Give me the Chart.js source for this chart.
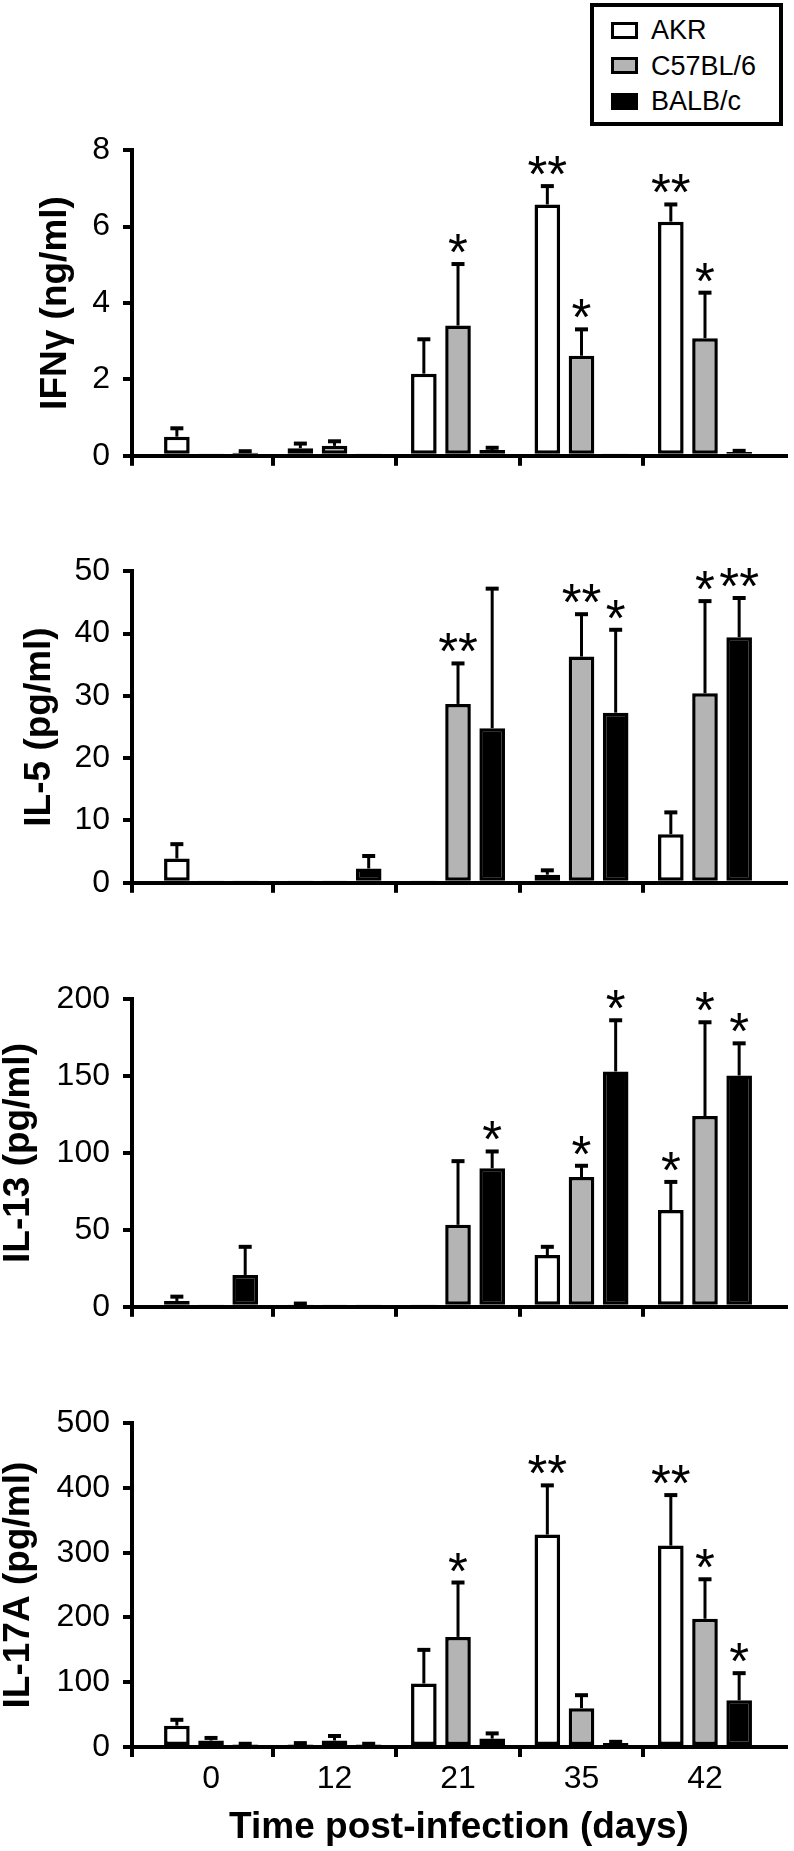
<!DOCTYPE html>
<html><head><meta charset="utf-8">
<script src="https://cdn.jsdelivr.net/npm/chart.js@4.4.1/dist/chart.umd.min.js"></script>
<style>
html,body{margin:0;padding:0;overflow:hidden;background:#fff;width:794px;height:1851px;}
.panel{position:absolute;left:0;width:794px;}
#legend{position:absolute;left:590px;top:3px;width:193px;height:123px;box-sizing:border-box;border:4px solid #000;background:#fff;z-index:5;font-family:"Liberation Sans",Arial,Helvetica,sans-serif;font-size:27px;color:#000;}
.key{position:absolute;left:17px;width:27px;height:17px;box-sizing:border-box;border:3.5px solid #000;}
.lab{position:absolute;left:57px;line-height:1;white-space:nowrap;}
</style></head>
<body>
<div id="legend"></div>
<div class="panel" style="top:118px;height:370px"><canvas id="c1"></canvas></div>
<div class="panel" style="top:539px;height:376px"><canvas id="c2"></canvas></div>
<div class="panel" style="top:967px;height:372px"><canvas id="c3"></canvas></div>
<div class="panel" style="top:1391px;height:457px"><canvas id="c4"></canvas></div>
<script>
// ---- data ----
const xLabels = ["0", "12", "21", "35", "42"];
const strains = ["AKR", "C57BL/6", "BALB/c"];
const strainColors = ["#ffffff", "#b4b4b4", "#000000"];

const ifng_akr = [0.50, 0.20, 2.15, 6.58, 6.13];
const ifng_akr_err = [0.22, 0.12, 0.90, 0.48, 0.45];
const ifng_akr_sig = ["", "", "", "**", "**"];
const ifng_c57 = [0.02, 0.26, 3.41, 2.62, 3.08];
const ifng_c57_err = [0, 0.12, 1.61, 0.69, 1.19];
const ifng_c57_sig = ["", "", "*", "*", "*"];
const ifng_balb = [0.08, 0.02, 0.15, 0.03, 0.10];
const ifng_balb_err = [0.04, 0, 0.06, 0, 0.03];
const ifng_balb_sig = ["", "", "", "", ""];

const il5_akr = [3.9, 0.15, 0.15, 1.3, 7.8];
const il5_akr_err = [2.3, 0, 0, 0.7, 3.5];
const il5_akr_sig = ["", "", "", "", ""];
const il5_c57 = [0.15, 0.15, 28.7, 36.3, 30.4];
const il5_c57_err = [0, 0, 6.5, 6.8, 14.8];
const il5_c57_sig = ["", "", "**", "**", "*"];
const il5_balb = [0.15, 2.3, 24.8, 27.3, 39.4];
const il5_balb_err = [0, 2.0, 22.4, 13.3, 6.3];
const il5_balb_sig = ["", "", "", "*", "**"];

const il13_akr = [3.8, 1.5, 0.5, 33.6, 62.9];
const il13_akr_err = [2.8, 0.6, 0, 5.4, 18.3];
const il13_akr_sig = ["", "", "", "", "*"];
const il13_c57 = [0.5, 0.5, 53.3, 84.4, 124];
const il13_c57_err = [0, 0, 41.4, 7.3, 61];
const il13_c57_sig = ["", "", "", "*", "*"];
const il13_balb = [20.7, 0.5, 90.1, 153, 150.4];
const il13_balb_err = [18.3, 0, 10.9, 33.3, 20.9];
const il13_balb_sig = ["", "", "*", "*", "*"];

const il17_akr = [33, 4, 98, 328, 311];
const il17_akr_err = [9, 2, 52, 76, 78];
const il17_akr_sig = ["", "", "", "**", "**"];
const il17_c57 = [10, 10, 170, 60, 198];
const il17_c57_err = [4, 7, 84, 20, 61];
const il17_c57_sig = ["", "", "*", "", "*"];
const il17_balb = [4, 4, 13, 6, 72];
const il17_balb_err = [1, 1, 8, 2, 42];
const il17_balb_sig = ["", "", "", "", "*"];

const yTitles = ["IFN\u03b3 (ng/ml)", "IL-5 (pg/ml)", "IL-13 (pg/ml)", "IL-17A (pg/ml)"];
const yMaxes = [8, 50, 200, 500];
const ySteps = [2, 10, 50, 100];
const xTitle = "Time post-infection (days)";

// ---- legend ----
const FONT = '"Liberation Sans", Arial, Helvetica, sans-serif';
const legend = document.getElementById('legend');
const keyTops = [15, 50, 86];
const labTops = [10, 46, 81];
strains.forEach((s, i) => {
  const k = document.createElement('div');
  k.className = 'key'; k.style.top = keyTops[i] + 'px'; k.style.background = strainColors[i];
  const t = document.createElement('div');
  t.className = 'lab'; t.style.top = labTops[i] + 'px'; t.textContent = s;
  legend.appendChild(k); legend.appendChild(t);
});

// ---- plugin: error bars + significance stars ----
const errBars = {
  id: 'errBars',
  afterDatasetsDraw(chart) {
    const ctx = chart.ctx, ys = chart.scales.y;
    chart.data.datasets.forEach((ds, di) => {
      const meta = chart.getDatasetMeta(di);
      meta.data.forEach((bar, i) => {
        const v = ds.data[i].y, e = ds.errors[i];
        const yTop = ys.getPixelForValue(v + e);
        ctx.save();
        ctx.strokeStyle = '#000';
        if (e > 0) {
          ctx.lineWidth = 3;
          ctx.beginPath(); ctx.moveTo(bar.x, bar.y); ctx.lineTo(bar.x, yTop); ctx.stroke();
          ctx.lineWidth = 4;
          ctx.beginPath(); ctx.moveTo(bar.x - 6.5, yTop); ctx.lineTo(bar.x + 6.5, yTop); ctx.stroke();
        }
        if (ds.sig[i]) {
          ctx.fillStyle = '#000';
          ctx.font = '51px ' + FONT;
          ctx.textAlign = 'center';
          ctx.textBaseline = 'alphabetic';
          ctx.fillText(ds.sig[i], bar.x, yTop + 6);
        }
        ctx.restore();
      });
    });
  }
};

const X_MIN = -0.64, X_MAX = 4.656;
const titlePads = [37, 21.5, 0, 0];

function makePanel(id, p, means, errs, sigs, isBottom) {
  const datasets = strains.map((s, si) => ({
    label: s,
    data: means[si].map((v, i) => ({ x: i, y: v })),
    errors: errs[si],
    sig: sigs[si],
    backgroundColor: strainColors[si],
    borderColor: '#000',
    borderWidth: 3.5,
    borderSkipped: false,
    categoryPercentage: 0.83,
    barPercentage: 0.75,
    xAxisID: 'x',
    yAxisID: 'y'
  }));
  new Chart(document.getElementById(id), {
    type: 'bar',
    data: { datasets },
    options: {
      responsive: true, maintainAspectRatio: false, animation: false,
      layout: { padding: { top: 25, right: 8, bottom: 2, left: 0 } },
      plugins: { legend: { display: false }, tooltip: { enabled: false } },
      scales: {
        y: {
          min: 0, max: yMaxes[p],
          ticks: { stepSize: ySteps[p], color: '#000', padding: 13, font: { family: FONT, size: 32 } },
          grid: { display: true, drawOnChartArea: false, drawTicks: true, tickLength: 9, tickWidth: 4, tickColor: '#000', lineWidth: 4, color: '#000' },
          border: { display: true, width: 4, color: '#000' },
          title: { display: true, text: yTitles[p], color: '#000', font: { family: FONT, size: 37, weight: 'bold', lineHeight: 1 }, padding: { top: titlePads[p], bottom: 0 } },
          afterFit: (s) => { s.width = 132; }
        },
        xb: {
          type: 'linear', position: 'bottom', weight: 0, min: X_MIN, max: X_MAX, bounds: 'data', offset: false,
          grid: { display: true, offset: false, drawOnChartArea: false, drawTicks: true, tickLength: 10, tickWidth: 4, tickColor: '#000', lineWidth: 4, color: '#000' },
          border: { display: true, width: 4, color: '#000' },
          ticks: { display: false },
          afterBuildTicks: (s) => { s.ticks = [X_MIN, 0.5, 1.5, 2.5, 3.5].map(v => ({ value: v })); }
        },
        x: {
          type: 'linear', position: 'bottom', weight: 1, min: X_MIN, max: X_MAX, bounds: 'data', offset: false,
          grid: { display: false, offset: false, drawTicks: false },
          border: { display: false },
          ticks: { display: isBottom, color: '#000', padding: 6, font: { family: FONT, size: 32, lineHeight: 1 }, callback: (v) => xLabels[v] },
          afterBuildTicks: (s) => { s.ticks = xLabels.map((_, i) => ({ value: i })); },
          title: { display: isBottom, text: xTitle, color: '#000', font: { family: FONT, size: 37, weight: 'bold', lineHeight: 1 }, padding: { top: 8, bottom: 0 } }
        }
      }
    },
    plugins: [errBars]
  });
}

makePanel('c1', 0, [ifng_akr, ifng_c57, ifng_balb], [ifng_akr_err, ifng_c57_err, ifng_balb_err], [ifng_akr_sig, ifng_c57_sig, ifng_balb_sig], false);
makePanel('c2', 1, [il5_akr, il5_c57, il5_balb], [il5_akr_err, il5_c57_err, il5_balb_err], [il5_akr_sig, il5_c57_sig, il5_balb_sig], false);
makePanel('c3', 2, [il13_akr, il13_c57, il13_balb], [il13_akr_err, il13_c57_err, il13_balb_err], [il13_akr_sig, il13_c57_sig, il13_balb_sig], false);
makePanel('c4', 3, [il17_akr, il17_c57, il17_balb], [il17_akr_err, il17_c57_err, il17_balb_err], [il17_akr_sig, il17_c57_sig, il17_balb_sig], true);
</script>
</body></html>
